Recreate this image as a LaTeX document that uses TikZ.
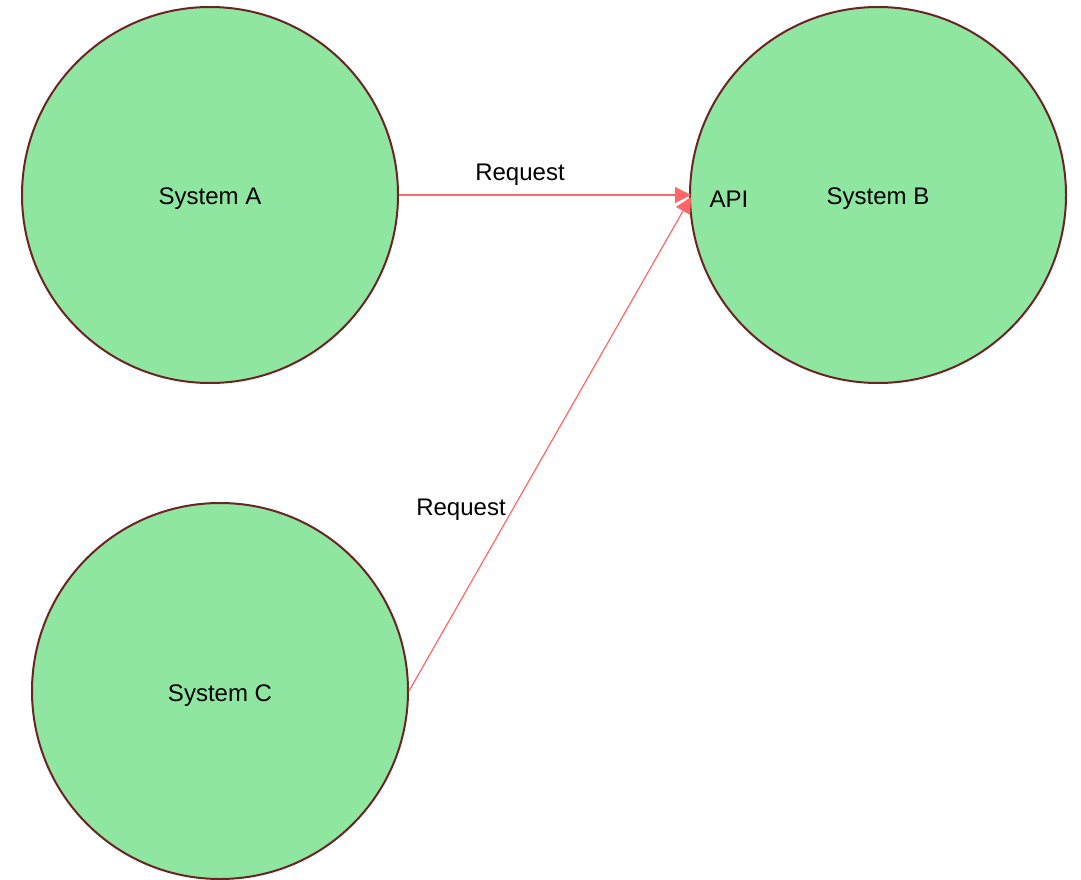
\documentclass[tikz,border=0pt]{standalone}
\usepackage{fontspec}
\setmainfont{Liberation Sans}
\usetikzlibrary{arrows.meta}
\definecolor{sysfill}{HTML}{8EE6A0}
\definecolor{sysdraw}{HTML}{6B2424}
\definecolor{arr}{HTML}{FF6666}
\begin{document}
\begin{tikzpicture}[x=1pt,y=-1pt,
  sys/.style={circle,draw=sysdraw,fill=sysfill,line width=2pt,minimum size=376pt,inner sep=0pt},
  lbl/.style={font=\fontsize{24}{28}\selectfont,text=black,inner sep=0pt},
  req/.style={draw=arr,line width=1.2pt,-{Triangle[length=16pt,width=16pt]}}]
\useasboundingbox (0,0) rectangle (1081,880);
\node[sys] (A) at (210,195) {};
\node[sys] (B) at (878,195) {};
\node[sys] (C) at (220,691) {};
\node[lbl] (tA) at (210,199) {System A};
\node[lbl] (tB) at (878,199) {System B};
\node[lbl] (tC) at (220,696) {System C};
\node[lbl] (api) at (729,199) {API};
\coordinate (bin) at (691,195);
\coordinate (bin2) at (691,197);
\draw[req] (A.east) -- (bin);
\draw[req] (C.east) -- (bin2);
\node[lbl] (r1) at (520,175) {Request};
\node[lbl] (r2) at (461,510) {Request};
\end{tikzpicture}
\end{document}
